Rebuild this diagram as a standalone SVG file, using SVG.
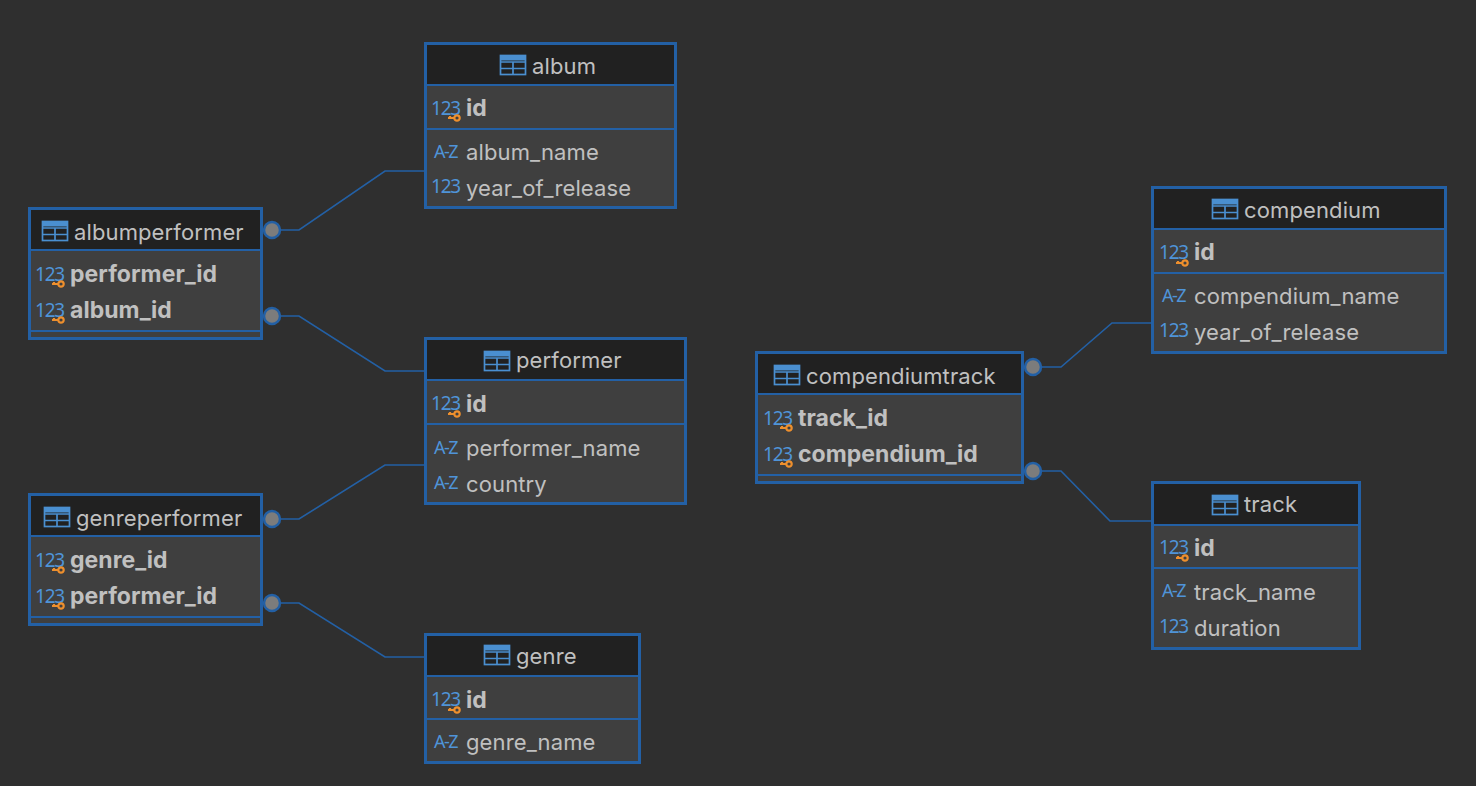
<svg xmlns="http://www.w3.org/2000/svg" width="1476" height="786" viewBox="0 0 1476 786">
<style>
.box{fill:#3f3f3f;stroke:#2360a5;stroke-width:3}
.hd{fill:#212121}
.div{stroke:#2360a5;stroke-width:2;fill:none}
.t{font-family:Inter,"Noto Sans",sans-serif;font-size:22px;fill:#c0c0c0;letter-spacing:.12px}
.b{font-weight:700;font-size:23px;letter-spacing:.05px}
.ic{font-family:"Noto Sans",sans-serif;font-size:19px;fill:#4f94d8}
.n{letter-spacing:-1.200px}
.a{letter-spacing:-1.500px;font-size:18px}
.ict{fill:none;stroke:#4a8fd0;stroke-width:1.700}
.key{fill:none;stroke:#ee8f2d;stroke-width:2.200}
.cn{fill:none;stroke:#2360a5;stroke-width:1.600}
.dot{fill:#7c7c7c;stroke:#2360a5;stroke-width:2.500}
</style>
<defs>
<g id="tbl"><rect x="0" y="0" width="25" height="19" class="ict"/><path d="M0 6.500H25M0 13H25M12.500 6.500V19" class="ict"/><rect x="0" y="0" width="25" height="5" fill="#4a8fd0"/></g>
<g id="key"><circle cx="6" cy="3" r="2.700" class="key"/><path d="M3.500 3H-3M-1 3V1" class="key"/></g>
</defs>
<rect width="1476" height="786" fill="#2f2f2f"/>
<g id="connectors">
<path class="cn" d="M272 230H299L385 171H425"/>
<path class="cn" d="M272 316H299L385 371H425"/>
<path class="cn" d="M272 519H299L385 465H425"/>
<path class="cn" d="M272 603H299L385 657H425"/>
<path class="cn" d="M1033 367H1061L1112 323H1152"/>
<path class="cn" d="M1033 471H1061L1110 521H1152"/>
<circle class="dot" cx="272" cy="230" r="8"/>
<circle class="dot" cx="272" cy="316" r="8"/>
<circle class="dot" cx="272" cy="519" r="8"/>
<circle class="dot" cx="272" cy="603" r="8"/>
<circle class="dot" cx="1033" cy="367" r="8"/>
<circle class="dot" cx="1033" cy="471" r="8"/>
</g>
<g id="album">
<rect class="box" x="425.500" y="43.500" width="250" height="164"/><rect class="hd" x="427" y="45" width="247" height="40"/>
<path class="div" d="M426 85H675M426 129H675"/>
<use href="#tbl" x="500.500" y="55.500"/><text class="t" x="532" y="74">album</text>
<text class="ic n" x="431" y="115">123</text><use href="#key" x="451" y="115"/><text class="t b" x="466" y="116">id</text>
<text class="ic a" x="434" y="158">A-Z</text><text class="t" x="466" y="160">album_name</text>
<text class="ic n" x="431" y="193">123</text><text class="t" x="466" y="196">year_of_release</text>
</g>
<g id="albumperformer">
<rect class="box" x="29.500" y="208.500" width="232" height="130"/><rect class="hd" x="31" y="210" width="229" height="40"/>
<path class="div" d="M30 250H261M30 331H261"/>
<use href="#tbl" x="42.500" y="221.500"/><text class="t" x="74" y="240">albumperformer</text>
<text class="ic n" x="35" y="281">123</text><use href="#key" x="55" y="281"/><text class="t b" x="70" y="282">performer_id</text>
<text class="ic n" x="35" y="317">123</text><use href="#key" x="55" y="317"/><text class="t b" x="70" y="318">album_id</text>
</g>
<g id="performer">
<rect class="box" x="425.500" y="338.500" width="260" height="165"/><rect class="hd" x="427" y="340" width="257" height="40"/>
<path class="div" d="M426 380H685M426 424H685"/>
<use href="#tbl" x="484.500" y="351.500"/><text class="t" x="516" y="368">performer</text>
<text class="ic n" x="431" y="410">123</text><use href="#key" x="451" y="411"/><text class="t b" x="466" y="412">id</text>
<text class="ic a" x="434" y="454">A-Z</text><text class="t" x="466" y="456">performer_name</text>
<text class="ic a" x="434" y="489">A-Z</text><text class="t" x="466" y="492">country</text>
</g>
<g id="genreperformer">
<rect class="box" x="29.500" y="494.500" width="232" height="130"/><rect class="hd" x="31" y="496" width="229" height="40"/>
<path class="div" d="M30 536H261M30 617H261"/>
<use href="#tbl" x="44.500" y="507.500"/><text class="t" x="76" y="526">genreperformer</text>
<text class="ic n" x="35" y="567">123</text><use href="#key" x="55" y="567"/><text class="t b" x="70" y="568">genre_id</text>
<text class="ic n" x="35" y="603">123</text><use href="#key" x="55" y="603"/><text class="t b" x="70" y="604">performer_id</text>
</g>
<g id="genre">
<rect class="box" x="425.500" y="634.500" width="214" height="128"/><rect class="hd" x="427" y="636" width="211" height="40"/>
<path class="div" d="M426 676H639M426 719H639"/>
<use href="#tbl" x="484.500" y="645.500"/><text class="t" x="516" y="664">genre</text>
<text class="ic n" x="431" y="706">123</text><use href="#key" x="451" y="707"/><text class="t b" x="466" y="708">id</text>
<text class="ic a" x="434" y="748">A-Z</text><text class="t" x="466" y="750">genre_name</text>
</g>
<g id="compendiumtrack">
<rect class="box" x="756.500" y="352.500" width="266" height="130"/><rect class="hd" x="758" y="354" width="263" height="40"/>
<path class="div" d="M757 394H1022M757 475H1022"/>
<use href="#tbl" x="774.500" y="365.500"/><text class="t" x="806" y="384">compendiumtrack</text>
<text class="ic n" x="763" y="425">123</text><use href="#key" x="783" y="425"/><text class="t b" x="798" y="426">track_id</text>
<text class="ic n" x="763" y="461">123</text><use href="#key" x="783" y="461"/><text class="t b" x="798" y="462">compendium_id</text>
</g>
<g id="compendium">
<rect class="box" x="1152.500" y="187.500" width="293" height="165"/><rect class="hd" x="1154" y="189" width="290" height="40"/>
<path class="div" d="M1153 229H1445M1153 273H1445"/>
<use href="#tbl" x="1212.500" y="199.500"/><text class="t" x="1244" y="218">compendium</text>
<text class="ic n" x="1159" y="259">123</text><use href="#key" x="1179" y="260"/><text class="t b" x="1194" y="260">id</text>
<text class="ic a" x="1162" y="302">A-Z</text><text class="t" x="1194" y="304">compendium_name</text>
<text class="ic n" x="1159" y="337">123</text><text class="t" x="1194" y="340">year_of_release</text>
</g>
<g id="track">
<rect class="box" x="1152.500" y="482.500" width="207" height="166"/><rect class="hd" x="1154" y="484" width="204" height="41"/>
<path class="div" d="M1153 525H1359M1153 568H1359"/>
<use href="#tbl" x="1212.500" y="495.500"/><text class="t" x="1244" y="512">track</text>
<text class="ic n" x="1159" y="554">123</text><use href="#key" x="1179" y="555"/><text class="t b" x="1194" y="556">id</text>
<text class="ic a" x="1162" y="597">A-Z</text><text class="t" x="1194" y="600">track_name</text>
<text class="ic n" x="1159" y="633">123</text><text class="t" x="1194" y="636">duration</text>
</g>
</svg>
